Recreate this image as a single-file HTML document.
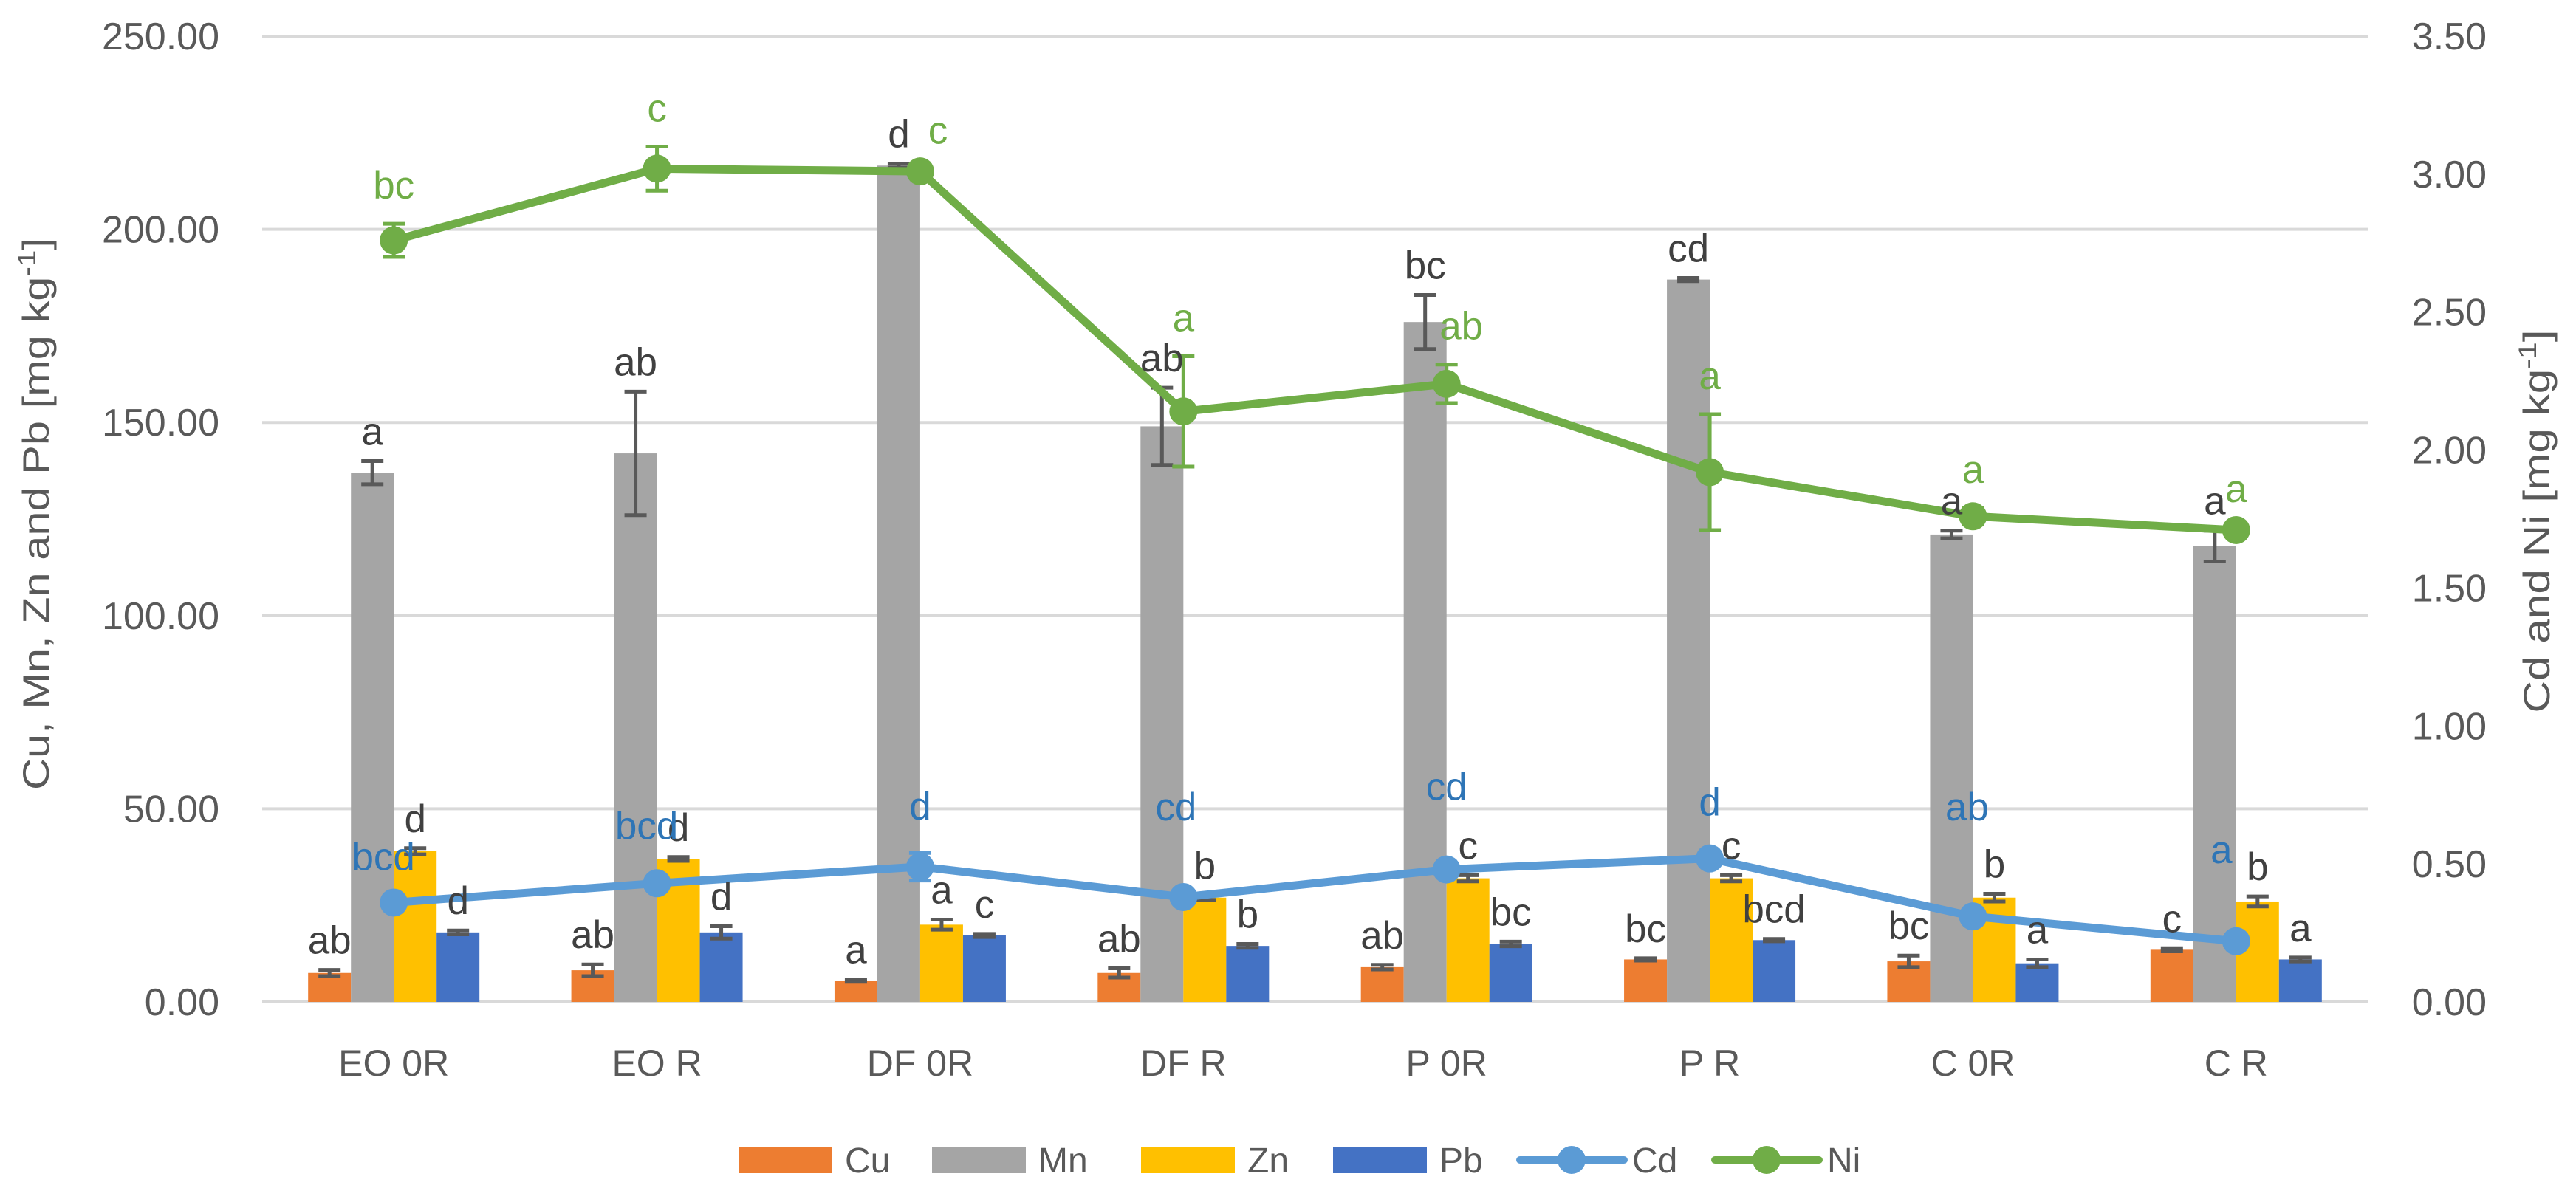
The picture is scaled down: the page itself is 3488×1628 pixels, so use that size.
<!DOCTYPE html>
<html><head><meta charset="utf-8">
<style>
html,body{margin:0;padding:0;background:#fff;}
svg{display:block;font-family:"Liberation Sans",sans-serif;}
</style></head>
<body>
<svg id="chart" width="3488" height="1628" viewBox="0 0 3488 1628" xmlns="http://www.w3.org/2000/svg">
<rect x="0" y="0" width="3488" height="1628" fill="#fff"/>
<g id="grid"></g>
<g id="bars"></g>
<g id="lines"></g>
<g id="labels"></g>
<g id="axes"></g>
<text transform="translate(66,696) rotate(-90)" text-anchor="middle" font-size="50" fill="#595959" textLength="748" lengthAdjust="spacingAndGlyphs">Cu, Mn, Zn and Pb [mg kg<tspan dy="-18" font-size="34">-1</tspan><tspan dy="18">]</tspan></text>
<text transform="translate(3452,706) rotate(-90)" text-anchor="middle" font-size="50" fill="#595959" textLength="519" lengthAdjust="spacingAndGlyphs">Cd and Ni [mg kg<tspan dy="-18" font-size="34">-1</tspan><tspan dy="18">]</tspan></text>
<g id="legend"></g>
</svg>
<script>
const categories = ["EO 0R","EO R","DF 0R","DF R","P 0R","P R","C 0R","C R"];
const cuValues = [7.5, 8.2, 5.5, 7.5, 9.0, 11.0, 10.5, 13.5];
const cuErr = [0.8, 1.5, 0.3, 1.2, 0.6, 0.3, 1.5, 0.4];
const mnValues = [137, 142, 216.5, 149, 176, 187, 121, 118];
const mnErr = [3, 16, 0.5, 10, 7, 0.4, 1, 4];
const znValues = [39, 37, 20, 27, 32, 32, 27, 26];
const znErr = [0.8, 0.5, 1.3, 0.6, 0.8, 0.8, 1.0, 1.3];
const pbValues = [18, 18, 17.2, 14.5, 15, 16, 10, 11];
const pbErr = [0.5, 1.6, 0.4, 0.5, 0.6, 0.3, 1.0, 0.5];
const cdValues = [0.36, 0.43, 0.49, 0.38, 0.48, 0.52, 0.31, 0.22];
const cdErr = [0.01, 0.01, 0.05, 0.01, 0.01, 0.01, 0.01, 0.01];
const niValues = [2.76, 3.02, 3.01, 2.14, 2.24, 1.92, 1.76, 1.71];
const niErr = [0.06, 0.08, 0.01, 0.20, 0.07, 0.21, 0.03, 0.01];
const cuLetters = ["ab","ab","a","ab","ab","bc","bc","c"];
const mnLetters = ["a","ab","d","ab","bc","cd","a","a"];
const znLetters = ["d","d","a","b","c","c","b","b"];
const pbLetters = ["d","d","c","b","bc","bcd","a","a"];
const cdLetters = ["bcd","bcd","d","cd","cd","d","ab","a"];
const niLetters = ["bc","c","c","a","ab","a","a","a"];
const leftTicks = [0,50,100,150,200,250];
const rightTicks = [0,0.5,1,1.5,2,2.5,3,3.5];

const NS="http://www.w3.org/2000/svg";
const X0=355, X1=3206, Y0=1357, Y1=49;
const catW=(X1-X0)/categories.length;
const barW=58;
function xCat(i){return X0+catW*(i+0.5);}
function yL(v){return Y0-(v/250)*(Y0-Y1);}
function yR(v){return Y0-(v/3.5)*(Y0-Y1);}
function mk(tag,attrs,parent){const e=document.createElementNS(NS,tag);for(const k in attrs)e.setAttribute(k,attrs[k]);parent.appendChild(e);return e;}

const grid=document.getElementById('grid');
leftTicks.forEach(t=>{
  const l=mk('line',{x1:X0,x2:X1,y1:yL(t),y2:yL(t),stroke:'#d9d9d9','stroke-width':4},grid);
  
  
});
const axes=document.getElementById('axes');
leftTicks.forEach(t=>{
  const tx=mk('text',{x:297,y:yL(t)+18,'text-anchor':'end','font-size':52,fill:'#595959'},axes);
  tx.textContent=t.toFixed(2);
  
  
});
rightTicks.forEach(t=>{
  const tx=mk('text',{x:3367,y:yR(t)+18,'text-anchor':'end','font-size':52,fill:'#595959'},axes);
  tx.textContent=t.toFixed(2);
  
  
});
categories.forEach((c,i)=>{
  const tx=mk('text',{x:xCat(i),y:1457,'text-anchor':'middle','font-size':50,fill:'#595959'},axes);
  tx.textContent=c;
  
  
});

const bars=document.getElementById('bars');
const labels=document.getElementById('labels');
const barSeries=[
  {name:'cu',vals:cuValues,err:cuErr,let:cuLetters,color:'#ED7D31'},
  {name:'mn',vals:mnValues,err:mnErr,let:mnLetters,color:'#A5A5A5'},
  {name:'zn',vals:znValues,err:znErr,let:znLetters,color:'#FFC000'},
  {name:'pb',vals:pbValues,err:pbErr,let:pbLetters,color:'#4472C4'}
];
function errBar(g,x,yTop,yBot,color,cap){
  mk('line',{x1:x,x2:x,y1:yTop,y2:yBot,stroke:color,'stroke-width':5},g);
  mk('line',{x1:x-cap,x2:x+cap,y1:yTop,y2:yTop,stroke:color,'stroke-width':5},g);
  mk('line',{x1:x-cap,x2:x+cap,y1:yBot,y2:yBot,stroke:color,'stroke-width':5},g);
}
barSeries.forEach((s,si)=>{
  s.vals.forEach((v,i)=>{
    const x=xCat(i)-2*barW+si*barW;
    const r=mk('rect',{x:x,y:yL(v),width:barW,height:Y0-yL(v),fill:s.color},bars);
    
    
    const cx=x+barW/2;
    errBar(bars,cx,yL(v+s.err[i]),yL(v-s.err[i]),'#595959',15);
    const tx=mk('text',{x:cx,y:yL(v+s.err[i])-22,'text-anchor':'middle','font-size':53,fill:'#404040'},labels);
    tx.textContent=s.let[i];
    
    
  });
});

const lines=document.getElementById('lines');
function lineSeries(vals,err,lets,color,txtColor,name,dyArr,dx){
  const pts=vals.map((v,i)=>xCat(i)+','+yR(v)).join(' ');
  const pl=mk('polyline',{points:pts,fill:'none',stroke:color,'stroke-width':11,'stroke-linejoin':'round'},lines);
  
  
  vals.forEach((v,i)=>{
    errBar(lines,xCat(i),yR(v+err[i]),yR(v-err[i]),color,15);
    const c=mk('circle',{cx:xCat(i),cy:yR(v),r:19,fill:color},lines);
    
    
    const tx=mk('text',{x:xCat(i)+dx[i],y:(dyArr?yR(v)-dyArr[i]:yR(v+err[i])-34),'text-anchor':'middle','font-size':53,fill:txtColor},labels);
    tx.textContent=lets[i];
    
    
  });
}
const cdLabelDy=[44,60,64,104,94,58,130,106];
lineSeries(cdValues,cdErr,cdLetters,'#5B9BD5','#2E75B6','cd',cdLabelDy,[-14,-14,0,-10,0,0,-8,-20]);
lineSeries(niValues,niErr,niLetters,'#70AD47','#70AD47','ni',null,[0,0,24,0,20,0,0,0]);

const lg=document.getElementById('legend');
const legendItems=[
  {t:'Cu',c:'#ED7D31',x:1000,type:'box'},
  {t:'Mn',c:'#A5A5A5',x:1262,type:'box'},
  {t:'Zn',c:'#FFC000',x:1545,type:'box'},
  {t:'Pb',c:'#4472C4',x:1805,type:'box'},
  {t:'Cd',c:'#5B9BD5',x:2058,type:'line'},
  {t:'Ni',c:'#70AD47',x:2322,type:'line'}
];
legendItems.forEach(it=>{
  const g=mk('g',{},lg);
  
  
  if(it.type==='box'){
    mk('rect',{x:it.x,y:1554,width:127,height:35,fill:it.c},g);
  } else {
    mk('line',{x1:it.x,x2:it.x+141,y1:1571,y2:1571,stroke:it.c,'stroke-width':10,'stroke-linecap':'round'},g);
    mk('circle',{cx:it.x+70,cy:1571,r:19,fill:it.c},g);
  }
  const tx=mk('text',{x:it.x+(it.type==='box'?144:152),y:1588,'font-size':48,fill:'#595959'},g);
  tx.textContent=it.t;
});
</script>
</body></html>
